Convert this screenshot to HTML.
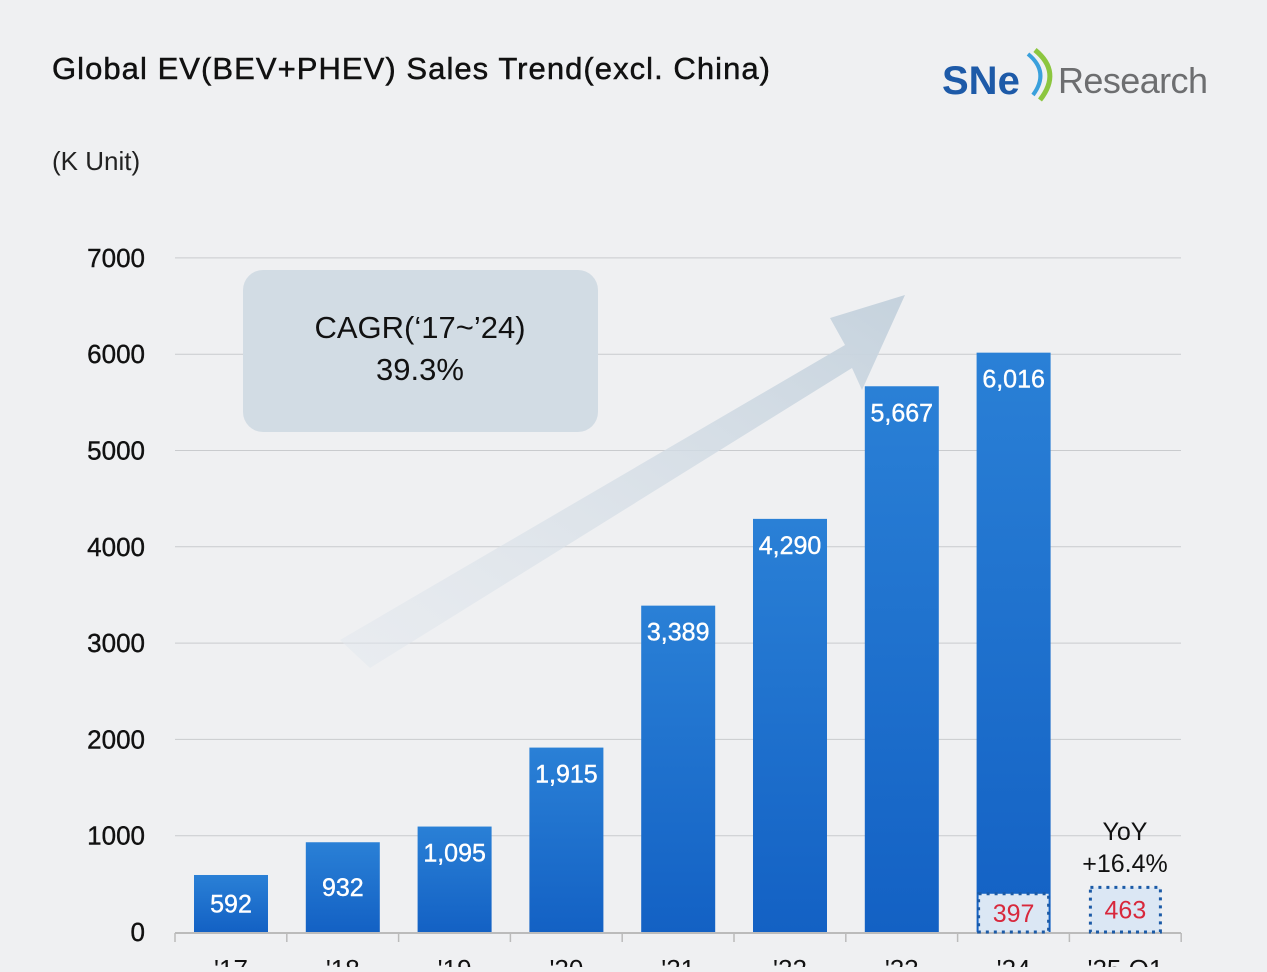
<!DOCTYPE html>
<html><head><meta charset="utf-8"><style>
body{margin:0;background:#eff0f2;font-family:"Liberation Sans",sans-serif;}
</style></head><body>
<svg width="1267" height="967" viewBox="0 0 1267 967" xmlns="http://www.w3.org/2000/svg">
<defs>
<linearGradient id="bg" x1="0" y1="0" x2="0" y2="1"><stop offset="0" stop-color="#2a80d6"/><stop offset="1" stop-color="#1361c4"/></linearGradient>
<linearGradient id="ag" x1="0" y1="1" x2="1" y2="0"><stop offset="0" stop-color="#e3e8ee" stop-opacity="0.5"/><stop offset="1" stop-color="#c5d2dd"/></linearGradient>
</defs>
<rect width="1267" height="967" fill="#eff0f2"/>
<text x="52" y="79" font-size="31" fill="#111" stroke="#111" stroke-width="0.5" textLength="718">Global EV(BEV+PHEV) Sales Trend(excl. China)</text>
<g>
<text x="942" y="94" font-size="40" font-weight="bold" fill="#1d5aa8">SNe</text>
<path d="M1035 50 Q1062 72 1040 100" stroke="#8cc63f" stroke-width="5" fill="none"/>
<path d="M1028 54 Q1050 72 1033 95" stroke="#3aa0dc" stroke-width="4" fill="none"/>
<text x="1058" y="93" font-size="36" fill="#6d6e70" textLength="150">Research</text>
</g>
<text x="52" y="170" font-size="26" fill="#222">(K Unit)</text>
<g id="grid"></g>
<polygon points="340,640 845,345 830,318 905,295 862,390 852,368 370,668" fill="url(#ag)"/>
<rect x="243" y="270" width="355" height="162" rx="20" fill="#d2dce4"/>
<text x="420" y="338" font-size="31" text-anchor="middle" fill="#111">CAGR(‘17~’24)</text>
<text x="420" y="380" font-size="31" text-anchor="middle" fill="#111">39.3%</text>
<g id="bars"></g>
<text x="1125" y="840" font-size="25" text-anchor="middle" fill="#111">YoY</text>
<text x="1125" y="872" font-size="25" text-anchor="middle" fill="#111">+16.4%</text>
</svg>
<script>
const categories=["'17","'18","'19","'20","'21","'22","'23","'24","'25.Q1"];
const values=[592,932,1095,1915,3389,4290,5667,6016,463];
const valueLabels=["592","932","1,095","1,915","3,389","4,290","5,667","6,016","463"];
const q1Values=[397,463];
const yTicks=[0,1000,2000,3000,4000,5000,6000,7000];
const NS="http://www.w3.org/2000/svg";
const y=v=>932-v*0.0963;
const x=i=>231+i*111.8;
const bw=74;
function mk(t,a,p){const e=document.createElementNS(NS,t);for(const k in a)e.setAttribute(k,a[k]);p.appendChild(e);return e;}
const g=document.getElementById('grid');
yTicks.forEach(v=>{
 if(v>0){const l=mk('line',{x1:175,x2:1181,y1:y(v),y2:y(v),stroke:'#c9cbce','stroke-width':1},g);
 
 }
 const t=mk('text',{x:145,y:y(v)+9,'font-size':26,'text-anchor':'end',fill:'#111',stroke:'#111','stroke-width':0.4},g);t.textContent=v;
 
 
});
const ax=mk('line',{x1:175,x2:1181,y1:933,y2:933,stroke:'#bbb','stroke-width':2},g);


for(let k=0;k<=categories.length;k++){const tk=mk('line',{x1:175+k*111.8,x2:175+k*111.8,y1:933,y2:942,stroke:'#bbb','stroke-width':1.5},g);
 
 }
const b=document.getElementById('bars');
categories.forEach((c,i)=>{
 const last=i===categories.length-1;
 if(!last){
  const r=mk('rect',{x:x(i)-bw/2,y:y(values[i]),width:bw,height:932-y(values[i]),fill:'url(#bg)'},b);
  
  
  const t=mk('text',{x:x(i),y:i<2?932-(932-y(values[i]))/2+9:y(values[i])+35,'font-size':25,'text-anchor':'middle',fill:'#fff',stroke:'#fff','stroke-width':0.4},b);
  t.textContent=valueLabels[i];
  
  
 }
 const xl=mk('text',{x:x(i),y:978,'font-size':26,'text-anchor':'middle',fill:'#111'},b);
 xl.textContent=c;
 
 
});
q1Values.forEach((v,j)=>{
 const i=7+j;
 const r=mk('rect',{x:x(i)-bw/2+2,y:y(v),width:bw-4,height:932-y(v),fill:'#dbe7f4',stroke:'#1b5aa6','stroke-width':3,'stroke-dasharray':'3 5'},b);
 
 
 const t=mk('text',{x:x(i),y:y(v)+(932-y(v))/2+9,'font-size':25,'text-anchor':'middle',fill:'#d8283c'},b);
 t.textContent=v;
 
 
});
</script>
</body></html>
